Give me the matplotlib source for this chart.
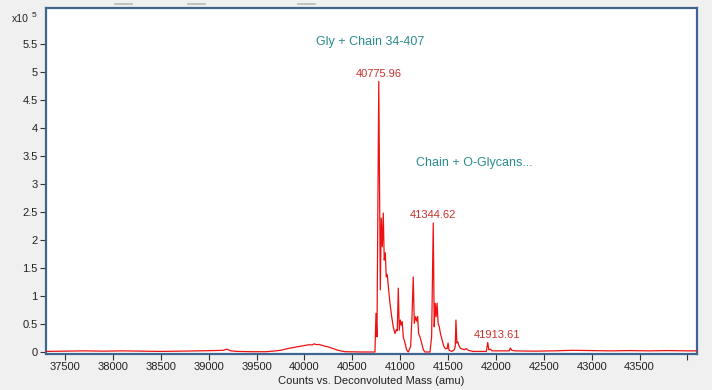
import matplotlib
matplotlib.use("Agg")
import matplotlib.pyplot as plt
from matplotlib.lines import Line2D

plt.rcParams["font.family"] = ["Liberation Sans", "DejaVu Sans"]

# deconvoluted spectrum (intensity in units of 1e5 counts)
mass = [
    37300, 37500, 37700, 37900, 38100, 38300, 38500, 38700, 38900, 39050,
    39150, 39190, 39230, 39300, 39450, 39600, 39700, 39750, 39850, 39950,
    40000, 40050, 40080, 40100, 40130, 40150, 40200, 40250, 40350, 40420,
    40600, 40736, 40747, 40757, 40776, 40792, 40802, 40813, 40823, 40833,
    40844, 40854, 40865, 40879, 40893, 40911, 40927, 40945, 40959, 40969,
    40980, 40990, 41001, 41011, 41021, 41032, 41050, 41067, 41084, 41109,
    41123, 41136, 41147, 41161, 41172, 41182, 41192, 41206, 41224, 41241,
    41258, 41311, 41328, 41345, 41355, 41365, 41375, 41385, 41396, 41408,
    41420, 41438, 41455, 41472, 41490, 41500, 41510, 41540, 41565, 41575,
    41582, 41592, 41602, 41612, 41627, 41650, 41670, 41690, 41710, 41760,
    41900, 41914, 41925, 41940, 41960, 42140, 42150, 42165, 42200, 42400,
    42600, 42800, 43000, 43200, 43400, 43600, 43800, 44000, 44100,
]
intensity = [
    0.010, 0.015, 0.020, 0.015, 0.020, 0.015, 0.010, 0.015, 0.020, 0.025,
    0.030, 0.050, 0.020, 0.010, 0.005, 0.005, 0.020, 0.030, 0.070, 0.100,
    0.115, 0.130, 0.125, 0.145, 0.130, 0.135, 0.110, 0.090, 0.030, 0.005,
    0.000, 0.000, 0.690, 0.270, 4.830, 1.110, 2.390, 1.880, 2.480, 1.640,
    1.770, 1.340, 1.380, 1.110, 0.870, 0.630, 0.450, 0.330, 0.400, 0.380,
    1.140, 0.390, 0.570, 0.480, 0.540, 0.270, 0.160, 0.040, 0.000, 0.100,
    0.630, 1.340, 0.510, 0.630, 0.550, 0.630, 0.330, 0.270, 0.160, 0.040,
    0.000, 0.000, 0.270, 2.300, 0.450, 0.870, 0.630, 0.870, 0.510, 0.450,
    0.330, 0.210, 0.100, 0.060, 0.060, 0.160, 0.030, 0.010, 0.040, 0.100,
    0.570, 0.160, 0.180, 0.120, 0.070, 0.050, 0.040, 0.060, 0.030, 0.010,
    0.010, 0.170, 0.040, 0.050, 0.020, 0.020, 0.070, 0.030, 0.020, 0.015,
    0.020, 0.030, 0.025, 0.020, 0.025, 0.020, 0.025, 0.020, 0.020,
]

peak_text = ["40775.96", "41344.62", "41913.61"]
# label anchor points (the last one is nudged right of its peak, as in the original)
label_x = [40776, 41345, 42010]
label_y = [4.88, 2.36, 0.22]

notes = ["Gly + Chain 34-407", "Chain + O-Glycans..."]
note_x = [40684, 41770]
note_y = [5.54, 3.37]

xticks = [37500, 38000, 38500, 39000, 39500, 40000, 40500, 41000,
          41500, 42000, 42500, 43000, 43500, 44000]
yticks = [0, 0.5, 1, 1.5, 2, 2.5, 3, 3.5, 4, 4.5, 5, 5.5]

frame_col = "#3f6591"
teal = "#2a8c8c"
lab_red = "#c8302c"

fig = plt.figure(figsize=(7.12, 3.9), dpi=100, facecolor="#f0f0f0")
ax = fig.add_axes([46 / 712, 36 / 390, 651 / 712, 346 / 390])
ax.set_facecolor("white")

ax.plot(mass, intensity, color="#ee1111", lw=0.9, zorder=3)

ax.set_xlim(37300, 44100)
ax.set_ylim(-0.036, 6.14)

ax.set_xticks(xticks)
ax.set_xticklabels([str(t) if t < 44000 else "" for t in xticks])
ax.set_yticks(yticks)
ax.set_yticklabels([f"{t:g}" for t in yticks])
ax.tick_params(direction="out", length=4, width=0.8, color="#333333",
               labelsize=8, labelcolor="#222222", pad=2)

for s in ax.spines.values():
    s.set_color(frame_col)
    s.set_linewidth(1.6)

for t, x, y in zip(peak_text, label_x, label_y):
    ax.text(x, y, t, color=lab_red, fontsize=8, ha="center", va="bottom")

for t, x, y in zip(notes, note_x, note_y):
    ax.text(x, y, t, color=teal, fontsize=9, ha="center", va="center")

ax.set_xlabel("Counts vs. Deconvoluted Mass (amu)", fontsize=8,
              color="#222222", labelpad=3)

fig.text(12 / 712, 1 - 22 / 390, "x10", fontsize=7.5, color="#222222",
         ha="left", va="baseline")
fig.text(32 / 712, 1 - 17 / 390, "5", fontsize=6, color="#222222",
         ha="left", va="baseline")

# small grey window marks along the top edge
for x0, x1 in [(115, 132), (188, 205), (298, 315)]:
    fig.add_artist(Line2D([x0 / 712, x1 / 712], [1 - 4 / 390, 1 - 4 / 390],
                          color="#b8b8b8", lw=1.2))

fig.savefig("out.png", dpi=100, facecolor=fig.get_facecolor())
